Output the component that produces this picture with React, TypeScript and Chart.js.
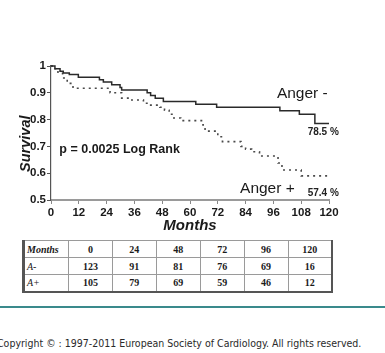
import React, { useEffect, useRef } from "react";
import { Chart, registerables } from "chart.js";

Chart.register(...registerables);

// Kaplan-Meier curves (months, survival)
const angerMinusMonths = [0, 1.7, 3.9, 5.3, 7.9, 11.8, 20.9, 22.6, 26.2, 29.8, 30.5, 41.5, 43, 45, 48.5, 62.5, 71.5, 98.8, 107.2, 113.9, 120];
const angerMinusSurvival = [1, 0.99, 0.98, 0.974, 0.968, 0.958, 0.949, 0.94, 0.93, 0.92, 0.91, 0.9, 0.89, 0.88, 0.868, 0.857, 0.846, 0.833, 0.82, 0.785, 0.785];

const angerPlusMonths = [0, 1, 3, 5, 7, 9.5, 25.5, 30.5, 34, 39.9, 42, 47, 49, 51, 53, 56, 65.6, 66.5, 72, 74, 82, 84, 86.6, 90, 98, 99.7, 108, 120];
const angerPlusSurvival = [1, 0.99, 0.973, 0.955, 0.935, 0.917, 0.9, 0.88, 0.873, 0.861, 0.854, 0.846, 0.835, 0.82, 0.806, 0.796, 0.78, 0.757, 0.736, 0.718, 0.7, 0.69, 0.68, 0.664, 0.638, 0.612, 0.59, 0.59];

const xTickValues = [0, 12, 24, 36, 48, 60, 72, 84, 96, 108, 120];
const xTickLabels = ["0", "12", "24", "36", "48", "60", "72", "84", "96", "108", "120"];
const yTickValues = [0.5, 0.6, 0.7, 0.8, 0.9, 1];
const yTickLabels = ["0.5", "0.6", "0.7", "0.8", "0.9", "1"];

// Numbers at risk table
const tableHeader = ["Months", "0", "24", "48", "72", "96", "120"];
const riskRowLabels = ["A-", "A+"];
const riskAngerMinus = [123, 91, 81, 76, 69, 16];
const riskAngerPlus = [105, 79, 69, 59, 46, 12];

const copyrightText = "Copyright \u00A9 : 1997-2011 European Society of Cardiology. All rights reserved.";

const SANS = "'Liberation Sans', Arial, sans-serif";

const annotationPlugin = {
  id: "kmAnnotations",
  afterDatasetsDraw(chart: any) {
    const { ctx, scales } = chart;
    const x = scales.x;
    const y = scales.y;
    const items = [
      { text: "Anger -", m: 97.5, s: 0.881, font: `15.5px ${SANS}`, base: "alphabetic", color: "#1a1a1a" },
      { text: "78.5 %", m: 110.8, s: 0.751, font: `bold 10px ${SANS}`, base: "middle", color: "#222" },
      { text: "Anger +", m: 81.6, s: 0.526, font: `15.5px ${SANS}`, base: "alphabetic", color: "#1a1a1a" },
      { text: "57.4 %", m: 110.8, s: 0.526, font: `bold 10px ${SANS}`, base: "middle", color: "#222" },
      { text: "p = 0.0025 Log Rank", m: 3.6, s: 0.689, font: `bold 12.5px ${SANS}`, base: "middle", color: "#1a1a1a" },
    ];
    ctx.save();
    ctx.textAlign = "left";
    for (const it of items) {
      ctx.font = it.font;
      ctx.fillStyle = it.color;
      ctx.textBaseline = it.base;
      ctx.fillText(it.text, x.getPixelForValue(it.m), y.getPixelForValue(it.s));
    }
    // y axis title
    ctx.translate(26, y.getPixelForValue(0.71));
    ctx.rotate(-Math.PI / 2);
    ctx.font = `italic bold 14.5px ${SANS}`;
    ctx.textAlign = "center";
    ctx.textBaseline = "middle";
    ctx.fillStyle = "#1a1a1a";
    ctx.fillText("Survival", 0, 0);
    ctx.restore();
  },
};

function KMChart() {
  const ref = useRef<HTMLCanvasElement | null>(null);
  useEffect(() => {
    if (!ref.current) return;
    const chart = new Chart(ref.current, {
      type: "line",
      data: {
        datasets: [
          {
            label: "Anger -",
            data: angerMinusMonths.map((m, i) => ({ x: m, y: angerMinusSurvival[i] })),
            stepped: "before",
            borderColor: "#2a2a2a",
            borderWidth: 1.5,
            pointRadius: 0,
            fill: false,
            clip: 6,
          },
          {
            label: "Anger +",
            data: angerPlusMonths.map((m, i) => ({ x: m, y: angerPlusSurvival[i] })),
            stepped: "before",
            borderColor: "#4a4a4a",
            borderWidth: 1.6,
            borderDash: [2, 4],
            pointRadius: 0,
            fill: false,
            clip: 6,
          },
        ],
      } as any,
      options: {
        animation: false,
        responsive: false,
        layout: { padding: { left: 0, top: 66, right: 56, bottom: 4 } },
        plugins: { legend: { display: false }, tooltip: { enabled: false } },
        scales: {
          x: {
            type: "linear",
            min: 0,
            max: 120,
            afterBuildTicks: (s: any) => {
              s.ticks = xTickValues.map((v) => ({ value: v }));
            },
            afterFit: (s: any) => {
              s.height = 36;
            },
            ticks: {
              autoSkip: false,
              maxRotation: 0,
              padding: 2,
              color: "#1a1a1a",
              font: { family: SANS, size: 11.5, weight: "bold" },
              callback: (_v: any, i: number) => xTickLabels[i],
            },
            grid: { drawOnChartArea: false, drawTicks: true, tickLength: 4, color: "#888" },
            border: { display: true, color: "#9a9a9a", width: 2 },
            title: {
              display: true,
              text: "Months",
              color: "#1a1a1a",
              font: { family: SANS, size: 15, weight: "bold", style: "italic" },
              padding: { top: 0, bottom: 1 },
            },
          },
          y: {
            type: "linear",
            min: 0.5,
            max: 1,
            afterBuildTicks: (s: any) => {
              s.ticks = yTickValues.map((v) => ({ value: v }));
            },
            afterFit: (s: any) => {
              s.width = 51;
            },
            ticks: {
              autoSkip: false,
              padding: 1,
              color: "#1a1a1a",
              font: { family: SANS, size: 11.5, weight: "bold" },
              callback: (_v: any, i: number) => yTickLabels[i],
            },
            grid: { drawOnChartArea: false, drawTicks: true, tickLength: 4, color: "#555" },
            border: { display: true, color: "#555", width: 1.2 },
          },
        },
      } as any,
      plugins: [annotationPlugin],
    });
    return () => chart.destroy();
  }, []);
  return <canvas ref={ref} width={385} height={240} style={{ position: "absolute", left: 0, top: 0, width: 385, height: 240 }} />;
}

const cellBase: React.CSSProperties = {
  border: "1px solid #9a9a9a",
  padding: 0,
  textAlign: "center",
  fontWeight: "bold",
  color: "#1a1a1a",
};

export default function App() {
  const rows = [riskAngerMinus, riskAngerPlus];
  return (
    <div style={{ position: "absolute", left: 0, top: 0, width: 385, height: 353, background: "#fff", overflow: "hidden" }}>
      <KMChart />
      <table
        style={{
          position: "absolute",
          left: 22,
          top: 240,
          width: 311,
          height: 52,
          borderCollapse: "collapse",
          fontFamily: "'Liberation Serif', 'Times New Roman', serif",
          fontSize: 10,
          borderTop: "1px solid #9a9a9a",
          borderLeft: "3px solid #555",
          borderRight: "2px solid #555",
          borderBottom: "2px solid #555",
          tableLayout: "fixed",
        }}
      >
        <colgroup>
          <col style={{ width: 45 }} />
          {tableHeader.slice(1).map((h) => (
            <col key={h} />
          ))}
        </colgroup>
        <tbody>
          <tr style={{ height: 17 }}>
            {tableHeader.map((h, i) => (
              <td
                key={h}
                style={{ ...cellBase, textAlign: i === 0 ? "left" : "center", fontStyle: i === 0 ? "italic" : "normal", paddingLeft: i === 0 ? 2 : 0 }}
              >
                {h}
              </td>
            ))}
          </tr>
          {rows.map((r, ri) => (
            <tr key={ri} style={{ height: 17 }}>
              <td style={{ ...cellBase, textAlign: "left", fontStyle: "italic", fontWeight: "normal", paddingLeft: 2 }}>{riskRowLabels[ri]}</td>
              {r.map((v, i) => (
                <td key={i} style={cellBase}>
                  {v}
                </td>
              ))}
            </tr>
          ))}
        </tbody>
      </table>
      <div style={{ position: "absolute", left: 0, top: 306, width: 385, height: 2, background: "#3a8a8c" }} />
      <div
        style={{
          position: "absolute",
          left: -3,
          top: 336,
          whiteSpace: "nowrap",
          fontFamily: "'DejaVu Sans Condensed', 'DejaVu Sans', sans-serif",
          fontSize: 10.5,
          lineHeight: "14px",
          color: "#2a2a2a",
        }}
      >
        {copyrightText}
      </div>
    </div>
  );
}
